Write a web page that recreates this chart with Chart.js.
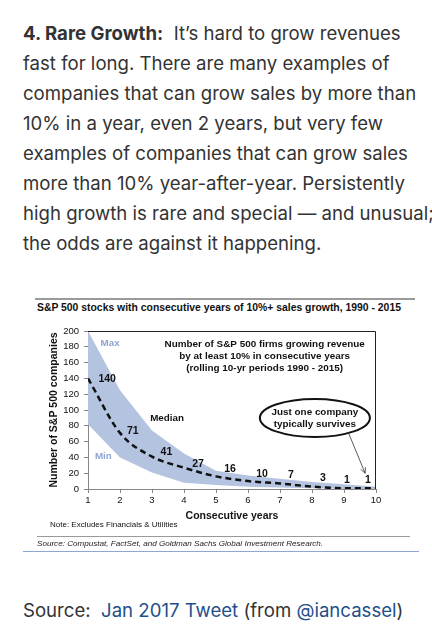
<!DOCTYPE html>
<html>
<head>
<meta charset="utf-8">
<script src="https://cdn.jsdelivr.net/npm/chart.js@4.4.1/dist/chart.umd.min.js"></script>
<style>
  body { margin: 0; background: #fff; width: 432px; height: 643px; position: relative; overflow: hidden; }
  .txt { position: absolute; left: 23px; font-family: Inter, "Noto Sans", sans-serif; font-size: 18.6px; color: #333; line-height: 30px; white-space: nowrap; }
  .rule { position: absolute; height: 0; }
  .small { position: absolute; font-family: "Liberation Sans", Arial, sans-serif; white-space: nowrap; color: #111; }
  a { color: #1f4f8a; text-decoration: none; }
  #chartBox { position: absolute; left: 0; top: 320px; }
</style>
</head>
<body>
<div class="txt" style="top:18px"><b>4. Rare Growth:</b>&nbsp; It’s hard to grow revenues<br>fast for long. There are many examples of<br>companies that can grow sales by more than<br>10% in a year, even 2 years, but very few<br>examples of companies that can grow sales<br>more than 10% year-after-year. Persistently<br>high growth is rare and special — and unusual;<br>the odds are against it happening.</div>

<div class="rule" style="left:35px;width:380px;top:298px;border-top:2px solid #9a9a9a"></div>
<div class="small" style="left:37px;top:302px;font-size:10.4px;font-weight:bold">S&amp;P 500 stocks with consecutive years of 10%+ sales growth, 1990 - 2015</div>

<div id="chartBox"><canvas id="chart" width="432" height="205"></canvas></div>

<div class="small" style="left:50px;top:520px;font-size:8px">Note: Excludes Financials &amp; Utilities</div>
<div class="rule" style="left:37px;width:373px;top:536px;border-top:1px solid #9a9a9a"></div>
<div class="small" style="left:37px;top:539px;font-size:8.1px;font-style:italic;color:#222">Source: Compustat, FactSet, and Goldman Sachs Global Investment Research.</div>
<div class="rule" style="left:23px;width:396px;top:551px;border-top:1px solid #8fa7d6"></div>

<div class="txt" style="top:595px">Source:&nbsp; <a>Jan 2017 Tweet</a> (from <a>@iancassel</a>)</div>

<script>
const years = [1, 2, 3, 4, 5, 6, 7, 8, 9, 10];
const maxFirms = [200, 125, 74, 45, 23, 17, 13, 9, 6, 3];
const medianFirms = [140, 71, 41, 27, 16, 10, 7, 3, 1, 1];
const minFirms = [82, 40, 21, 8, 5, 3, 2, 1, 0, 0];
const yTicks = [0, 20, 40, 60, 80, 100, 120, 140, 160, 180, 200];

// where the median value labels sit, in data units
const labelX = [1.6, 2.4, 3.45, 4.44, 5.44, 6.44, 7.34, 8.34, 9.09, 9.75];
const labelY = [139, 73, 47, 32, 25, 19, 17, 14, 11, 11];

const bandColor = '#b4c4e0';
const labelBlue = '#8ea4d2';

const annotations = {
    id: 'annotations',
    afterDatasetsDraw(chart) {
        const ctx = chart.ctx;
        const x = chart.scales.x;
        const y = chart.scales.y;
        const area = chart.chartArea;

        ctx.save();
        // top and right frame
        ctx.strokeStyle = '#222';
        ctx.lineWidth = 1;
        ctx.beginPath();
        ctx.moveTo(area.left, area.top + 0.5);
        ctx.lineTo(area.right - 0.5, area.top + 0.5);
        ctx.lineTo(area.right - 0.5, area.bottom);
        ctx.stroke();

        ctx.textAlign = 'center';
        ctx.textBaseline = 'middle';
        ctx.font = 'bold 10.5px "Liberation Sans", Arial, sans-serif';
        ctx.fillStyle = '#111';
        medianFirms.forEach((v, i) => {
            ctx.fillText(String(v), x.getPixelForValue(labelX[i]), y.getPixelForValue(labelY[i]));
        });

        ctx.font = 'bold 9.8px "Liberation Sans", Arial, sans-serif';
        ctx.fillText('Median', x.getPixelForValue(3.47), y.getPixelForValue(90));
        ctx.fillStyle = labelBlue;
        ctx.fillText('Max', x.getPixelForValue(1.69), y.getPixelForValue(185));
        ctx.fillText('Min', x.getPixelForValue(1.48), y.getPixelForValue(42));

        ctx.fillStyle = '#111';
        ctx.font = 'bold 9.9px "Liberation Sans", Arial, sans-serif';
        const cx = x.getPixelForValue(6.52);
        ctx.fillText('Number of S&P 500 firms growing revenue', cx, y.getPixelForValue(183));
        ctx.fillText('by at least 10% in consecutive years', cx, y.getPixelForValue(168));
        ctx.fillText('(rolling 10-yr periods 1990 - 2015)', cx, y.getPixelForValue(153));

        // ellipse callout
        const ex = x.getPixelForValue(8.09);
        const ey = y.getPixelForValue(90);
        ctx.strokeStyle = '#111';
        ctx.lineWidth = 2;
        ctx.beginPath();
        ctx.ellipse(ex, ey, 55, 19, 0, 0, Math.PI * 2);
        ctx.stroke();
        ctx.fillText('Just one company', ex, ey - 6);
        ctx.fillText('typically survives', ex, ey + 6);

        // arrow
        const ax0 = x.getPixelForValue(9.13), ay0 = y.getPixelForValue(72);
        const ax1 = x.getPixelForValue(9.66), ay1 = y.getPixelForValue(20);
        ctx.lineWidth = 0.8;
        ctx.strokeStyle = '#333';
        ctx.beginPath();
        ctx.moveTo(ax0, ay0);
        ctx.lineTo(ax1, ay1);
        const ang = Math.atan2(ay1 - ay0, ax1 - ax0);
        ctx.moveTo(ax1 - 6 * Math.cos(ang - 0.45), ay1 - 6 * Math.sin(ang - 0.45));
        ctx.lineTo(ax1, ay1);
        ctx.lineTo(ax1 - 6 * Math.cos(ang + 0.45), ay1 - 6 * Math.sin(ang + 0.45));
        ctx.stroke();
        ctx.restore();
    }
};

const tickFont = { family: '"Liberation Sans", Arial, sans-serif', size: 9.5 };
const titleFont = { family: '"Liberation Sans", Arial, sans-serif', size: 10.5, weight: 'bold' };

new Chart(document.getElementById('chart'), {
    type: 'line',
    data: {
        datasets: [{
            label: 'Median',
            data: years.map((yr, i) => ({ x: yr, y: medianFirms[i] })),
            borderColor: '#111',
            borderWidth: 2.5,
            borderDash: [6, 4],
            tension: 0.4,
            cubicInterpolationMode: 'monotone',
            pointRadius: 0,
            fill: false
        }, {
            label: 'Max',
            data: years.map((yr, i) => ({ x: yr, y: maxFirms[i] })),
            borderWidth: 0,
            borderColor: bandColor,
            backgroundColor: bandColor,
            pointRadius: 0,
            tension: 0,
            fill: '+1'
        }, {
            label: 'Min',
            data: years.map((yr, i) => ({ x: yr, y: minFirms[i] })),
            borderWidth: 0,
            borderColor: bandColor,
            pointRadius: 0,
            tension: 0,
            fill: false
        }]
    },
    options: {
        responsive: false,
        animation: false,
        layout: {
            padding: { left: 0, right: 56, top: 11, bottom: 0 }
        },
        scales: {
            x: {
                type: 'linear',
                min: 1,
                max: 10,
                afterFit(scale) { scale.height = 36; },
                ticks: { stepSize: 1, color: '#111', font: tickFont, padding: 2, maxRotation: 0 },
                grid: { drawOnChartArea: false, drawTicks: true, tickLength: 4, color: '#888' },
                border: { display: true, color: '#888', width: 1 },
                title: { display: true, text: 'Consecutive years', color: '#111', font: titleFont, padding: { top: 0, bottom: 2.5 } }
            },
            y: {
                min: 0,
                max: 200,
                afterFit(scale) { scale.width = 88; },
                afterBuildTicks(scale) { scale.ticks = yTicks.map(v => ({ value: v })); },
                ticks: { color: '#111', font: tickFont, padding: 5 },
                grid: { drawOnChartArea: false, drawTicks: true, tickLength: 4, color: '#888' },
                border: { display: true, color: '#888', width: 1 },
                title: { display: true, text: 'Number of S&P 500 companies', color: '#111', font: titleFont, padding: { top: 48, bottom: 0 } }
            }
        },
        plugins: {
            legend: { display: false },
            tooltip: { enabled: false }
        }
    },
    plugins: [annotations]
});
</script>
</body>
</html>
